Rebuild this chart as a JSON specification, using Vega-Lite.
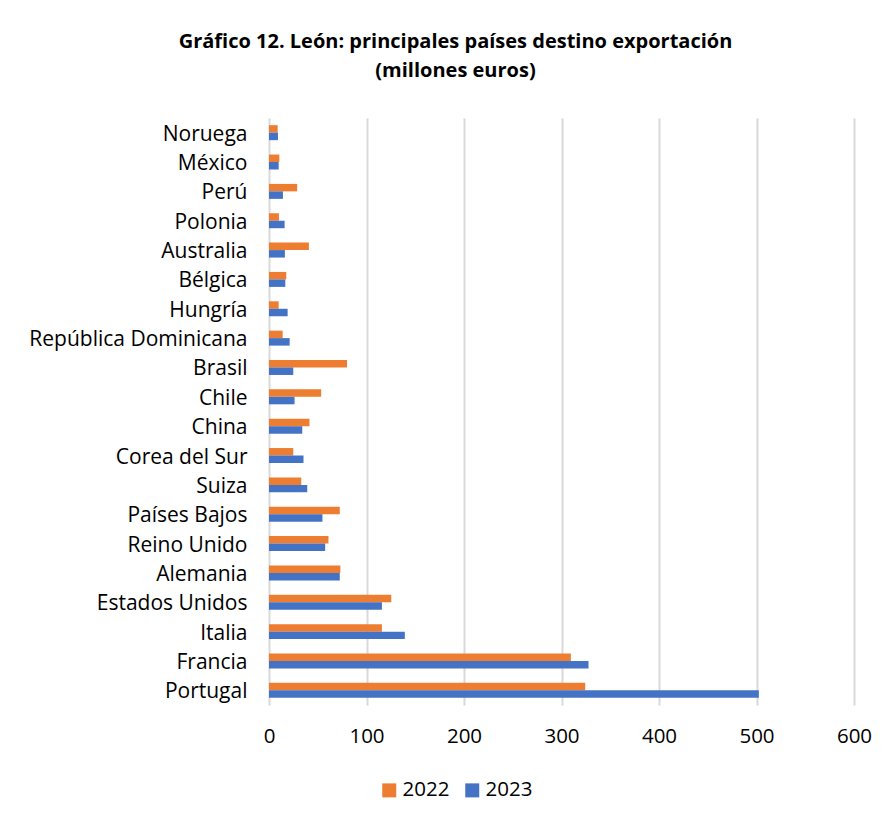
{
  "$schema": "https://vega.github.io/schema/vega-lite/v6.json",
  "autosize": "none",
  "width": 585,
  "height": 587,
  "padding": {"left": 269, "top": 118, "right": 37, "bottom": 117},
  "background": "white",
  "title": {
    "text": ["Gráfico 12. León: principales países destino exportación", "(millones euros)"],
    "font": "Open Sans",
    "fontSize": 20,
    "fontWeight": "bold",
    "color": "#000000",
    "lineHeight": 29,
    "anchor": "middle",
    "dx": -106,
    "offset": 37
  },
  "data": {
    "values": [
      {"country": "Noruega", "year": "2022", "value": 8.9},
      {"country": "Noruega", "year": "2023", "value": 9.2},
      {"country": "México", "year": "2022", "value": 10.6},
      {"country": "México", "year": "2023", "value": 9.9},
      {"country": "Perú", "year": "2022", "value": 28.9},
      {"country": "Perú", "year": "2023", "value": 14.3},
      {"country": "Polonia", "year": "2022", "value": 10.2},
      {"country": "Polonia", "year": "2023", "value": 16.0},
      {"country": "Australia", "year": "2022", "value": 40.9},
      {"country": "Australia", "year": "2023", "value": 16.3},
      {"country": "Bélgica", "year": "2022", "value": 17.7},
      {"country": "Bélgica", "year": "2023", "value": 16.7},
      {"country": "Hungría", "year": "2022", "value": 9.9},
      {"country": "Hungría", "year": "2023", "value": 19.1},
      {"country": "República Dominicana", "year": "2022", "value": 14.0},
      {"country": "República Dominicana", "year": "2023", "value": 21.2},
      {"country": "Brasil", "year": "2022", "value": 80.0},
      {"country": "Brasil", "year": "2023", "value": 24.9},
      {"country": "Chile", "year": "2022", "value": 53.5},
      {"country": "Chile", "year": "2023", "value": 26.2},
      {"country": "China", "year": "2022", "value": 41.5},
      {"country": "China", "year": "2023", "value": 34.1},
      {"country": "Corea del Sur", "year": "2022", "value": 24.9},
      {"country": "Corea del Sur", "year": "2023", "value": 35.4},
      {"country": "Suiza", "year": "2022", "value": 33.1},
      {"country": "Suiza", "year": "2023", "value": 39.2},
      {"country": "Países Bajos", "year": "2022", "value": 72.6},
      {"country": "Países Bajos", "year": "2023", "value": 54.8},
      {"country": "Reino Unido", "year": "2022", "value": 61.0},
      {"country": "Reino Unido", "year": "2023", "value": 57.6},
      {"country": "Alemania", "year": "2022", "value": 73.2},
      {"country": "Alemania", "year": "2023", "value": 72.6},
      {"country": "Estados Unidos", "year": "2022", "value": 125.4},
      {"country": "Estados Unidos", "year": "2023", "value": 115.8},
      {"country": "Italia", "year": "2022", "value": 115.8},
      {"country": "Italia", "year": "2023", "value": 139.3},
      {"country": "Francia", "year": "2022", "value": 309.6},
      {"country": "Francia", "year": "2023", "value": 327.7},
      {"country": "Portugal", "year": "2022", "value": 324.3},
      {"country": "Portugal", "year": "2023", "value": 502.4}
    ]
  },
  "mark": {"type": "bar"},
  "encoding": {
    "y": {
      "field": "country",
      "type": "nominal",
      "sort": ["Noruega", "México", "Perú", "Polonia", "Australia", "Bélgica", "Hungría", "República Dominicana", "Brasil", "Chile", "China", "Corea del Sur", "Suiza", "Países Bajos", "Reino Unido", "Alemania", "Estados Unidos", "Italia", "Francia", "Portugal"],
      "scale": {"paddingInner": 0.49, "paddingOuter": 0.245},
      "axis": {
        "title": null,
        "domain": false,
        "ticks": false,
        "labelFont": "Open Sans",
        "labelFontSize": 21,
        "labelColor": "#000000",
        "labelPadding": 22,
        "labelOffset": 2,
        "labelLimit": 400
      }
    },
    "yOffset": {
      "field": "year",
      "type": "nominal",
      "scale": {"paddingInner": 0, "paddingOuter": 0}
    },
    "x": {
      "field": "value",
      "type": "quantitative",
      "scale": {"domain": [0, 600], "nice": false},
      "axis": {
        "title": null,
        "values": [0, 100, 200, 300, 400, 500, 600],
        "domain": false,
        "ticks": false,
        "grid": true,
        "gridColor": "#d9d9d9",
        "gridWidth": 2,
        "labelFlush": false,
        "labelFont": "Open Sans",
        "labelFontSize": 20.5,
        "labelColor": "#000000",
        "labelPadding": 21
      }
    },
    "color": {
      "field": "year",
      "type": "nominal",
      "scale": {"domain": ["2022", "2023"], "range": ["#ED7D31", "#4472C4"]},
      "legend": {
        "title": null,
        "orient": "none",
        "direction": "horizontal",
        "legendX": 110,
        "legendY": 662,
        "symbolType": "square",
        "symbolSize": 196,
        "symbolStrokeWidth": 0,
        "labelFont": "Open Sans",
        "labelFontSize": 20.5,
        "labelColor": "#000000",
        "columnPadding": 12,
        "labelOffset": 3
      }
    }
  },
  "config": {"view": {"stroke": null}}
}
